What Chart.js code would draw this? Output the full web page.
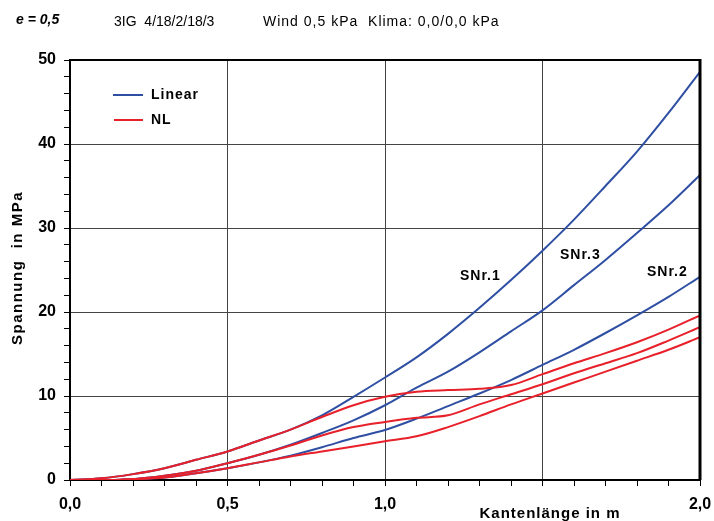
<!DOCTYPE html>
<html>
<head>
<meta charset="utf-8">
<script src="https://cdn.jsdelivr.net/npm/chart.js@4"></script>
<style>
  body { margin: 0; background: #fff; }
  #wrap { width: 714px; height: 521px; }
</style>
</head>
<body>
<div id="wrap"><canvas id="chart" width="714" height="521"></canvas></div>
<script>
// Kantenlänge in m
const xs = [0, 0.1, 0.2, 0.3, 0.4, 0.5, 0.6, 0.7, 0.8, 0.9, 1.0, 1.1, 1.2, 1.3, 1.4, 1.5, 1.6, 1.7, 1.8, 1.9, 2.0];

// Linear
const snr1Lin = [0, 0.2, 0.7, 1.4, 2.4, 3.4, 4.7, 6.0, 7.7, 9.9, 12.2, 14.6, 17.4, 20.5, 23.8, 27.3, 31.0, 35.0, 39.1, 43.7, 48.6];
const snr3Lin = [0, 0, 0.1, 0.5, 1.1, 2.0, 3.0, 4.2, 5.6, 7.1, 8.9, 11.0, 12.9, 15.2, 17.7, 20.2, 23.2, 26.2, 29.4, 32.7, 36.3];
const snr2Lin = [0, 0, 0.1, 0.3, 0.8, 1.4, 2.1, 2.9, 3.9, 5.0, 5.95, 7.3, 8.8, 10.3, 11.9, 13.7, 15.5, 17.5, 19.6, 21.8, 24.2];

// NL
const snr1NL = [0, 0.2, 0.7, 1.4, 2.4, 3.4, 4.7, 6.0, 7.5, 8.9, 9.9, 10.5, 10.7, 10.85, 11.3, 12.6, 13.9, 15.1, 16.4, 17.9, 19.6];
const snr3NL = [0, 0, 0.1, 0.5, 1.1, 2.0, 3.0, 4.1, 5.3, 6.3, 6.9, 7.4, 7.7, 9.0, 10.2, 11.4, 12.7, 13.9, 15.1, 16.6, 18.2];
const snr2NL = [0, 0, 0.1, 0.3, 0.8, 1.4, 2.1, 2.8, 3.4, 4.0, 4.6, 5.2, 6.3, 7.6, 9.0, 10.3, 11.6, 12.9, 14.2, 15.5, 17.0];

const xLabels = { 0: '0,0', 0.5: '0,5', 1: '1,0', 2: '2,0' };
const yLabels = [0, 10, 20, 30, 40, 50];

const BLUE = '#2f4fa3';
const RED = '#e8202a';
const FONT = '"Liberation Sans", Arial, sans-serif';

function pts(arr) {
  return xs.map((x, i) => ({ x: x, y: arr[i] }));
}

function line(label, arr, color) {
  return {
    label: label,
    data: pts(arr),
    borderColor: color,
    borderWidth: 2,
    pointRadius: 0,
    cubicInterpolationMode: 'monotone',
    fill: false
  };
}

// blue drawn on top of red where they coincide
const datasets = [
  line('NL', snr1NL, RED),
  line('NL', snr3NL, RED),
  line('NL', snr2NL, RED),
  line('Linear', snr1Lin, BLUE),
  line('Linear', snr3Lin, BLUE),
  line('Linear', snr2Lin, BLUE)
];

const near = (v, step) => Math.abs(v / step - Math.round(v / step)) < 1e-6;

const extras = {
  id: 'extras',
  afterDraw(chart) {
    const ctx = chart.ctx;
    const a = chart.chartArea;
    ctx.save();
    // frame
    ctx.strokeStyle = '#000';
    ctx.lineWidth = 2;
    ctx.beginPath();
    ctx.moveTo(a.left, a.top);
    ctx.lineTo(a.right, a.top);
    ctx.stroke();
    ctx.lineWidth = 3;
    ctx.beginPath();
    ctx.moveTo(a.right, a.top - 1);
    ctx.lineTo(a.right, a.bottom);
    ctx.stroke();

    ctx.fillStyle = '#000';
    ctx.textBaseline = 'middle';
    // header
    ctx.textAlign = 'left';
    ctx.font = 'italic bold 14px ' + FONT;
    ctx.fillText('e = 0,5', 16, 20);
    ctx.font = '14px ' + FONT;
    ctx.fillText('3IG  4/18/2/18/3', 114, 22);
    ctx.letterSpacing = '1px';
    ctx.fillText('Wind 0,5 kPa  Klima: 0,0/0,0 kPa', 263, 22);

    // legend
    ctx.lineWidth = 2;
    ctx.strokeStyle = BLUE;
    ctx.beginPath(); ctx.moveTo(113, 95); ctx.lineTo(143, 95); ctx.stroke();
    ctx.strokeStyle = RED;
    ctx.beginPath(); ctx.moveTo(114, 120); ctx.lineTo(143, 120); ctx.stroke();
    ctx.font = 'bold 14px ' + FONT;
    ctx.fillText('Linear', 151, 95);
    ctx.fillText('NL', 151, 120);

    // curve labels
    ctx.fillText('SNr.1', 460, 276);
    ctx.fillText('SNr.3', 560, 255);
    ctx.fillText('SNr.2', 647, 272);

    // axis titles
    ctx.textAlign = 'center';
    ctx.font = 'bold 15px ' + FONT;
    ctx.fillText('Kantenlänge in m', 550, 514);
    ctx.translate(18, 268);
    ctx.rotate(-Math.PI / 2);
    ctx.letterSpacing = '1.5px';
    ctx.fillText('Spannung  in MPa', 0, 0);
    ctx.restore();
  }
};

new Chart(document.getElementById('chart'), {
  type: 'line',
  data: { datasets: datasets },
  options: {
    responsive: false,
    animation: false,
    layout: { padding: { top: 60, right: 14, left: 0, bottom: 0 } },
    plugins: {
      legend: { display: false },
      tooltip: { enabled: false }
    },
    scales: {
      x: {
        type: 'linear',
        min: 0,
        max: 2,
        afterFit(s) {
          s.height = 41;
          s.paddingLeft = 0;
          s.paddingRight = 0;
        },
        ticks: {
          stepSize: 0.1,
          autoSkip: false,
          maxRotation: 0,
          padding: 9,
          color: '#000',
          font: { family: FONT, size: 16, weight: 'bold' },
          callback(v) {
            const k = Math.round(v * 10) / 10;
            return xLabels[k] !== undefined ? xLabels[k] : '';
          }
        },
        grid: {
          color(c) {
            const v = c.tick ? c.tick.value : 0;
            return near(v, 0.5) && v > 0 && v < 2 ? '#444' : 'rgba(0,0,0,0)';
          },
          tickColor: '#000',
          tickLength: 6,
          lineWidth: 1
        },
        border: { color: '#000', width: 2 }
      },
      y: {
        min: 0,
        max: 50,
        afterFit(s) {
          s.width = 70;
          s.paddingTop = 0;
          s.paddingBottom = 0;
        },
        ticks: {
          stepSize: 2,
          autoSkip: false,
          padding: 8,
          color: '#000',
          font: { family: FONT, size: 16, weight: 'bold' },
          callback(v) {
            return yLabels.includes(v) ? String(v) : '';
          }
        },
        grid: {
          color(c) {
            const v = c.tick ? c.tick.value : 0;
            return near(v, 10) && v > 0 && v < 50 ? '#444' : 'rgba(0,0,0,0)';
          },
          tickColor: '#000',
          tickLength: 6,
          lineWidth: 1
        },
        border: { color: '#000', width: 2 }
      }
    }
  },
  plugins: [extras]
});
</script>
</body>
</html>
